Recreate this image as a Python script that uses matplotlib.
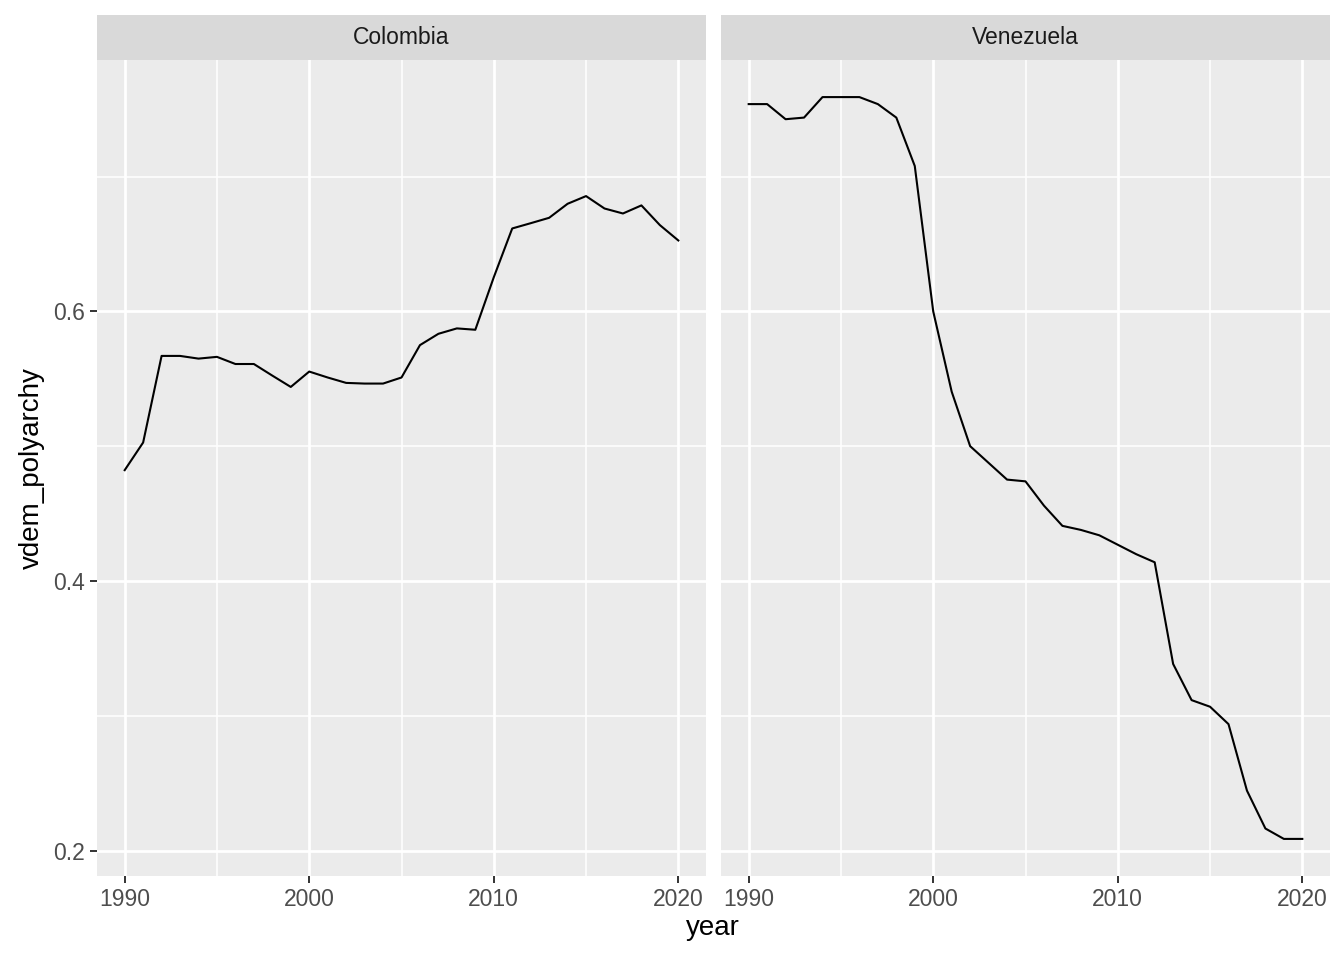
import matplotlib
matplotlib.use("Agg")
import matplotlib.pyplot as plt
from matplotlib.ticker import MultipleLocator

plt.rcParams['font.family'] = ['Liberation Sans', 'DejaVu Sans']

years = list(range(1990, 2021))
colombia = [0.4823, 0.5028, 0.567, 0.567, 0.565, 0.5663, 0.561, 0.561, 0.5524, 0.544,
            0.5554, 0.551, 0.547, 0.5465, 0.5465, 0.551, 0.575, 0.5834, 0.5874, 0.5864,
            0.6253, 0.6615, 0.6654, 0.6694, 0.6798, 0.6855, 0.6763, 0.6726, 0.6786, 0.664,
            0.6526]
venezuela = [0.7537, 0.7537, 0.7425, 0.7437, 0.7589, 0.7589, 0.7589, 0.7537, 0.7437, 0.7078,
             0.600, 0.5405, 0.5001, 0.4877, 0.4753, 0.474, 0.456, 0.441, 0.438, 0.434,
             0.427, 0.420, 0.414, 0.3386, 0.3118, 0.3069, 0.294, 0.2447, 0.2166, 0.2089,
             0.2089]
countries = ["Colombia", "Venezuela"]
series = [colombia, venezuela]

fig = plt.figure(figsize=(13.44, 9.6), dpi=100)

lefts = [97 / 1344, 721 / 1344]
w = 609 / 1344
bottom = 1 - 876 / 960
h = 816 / 960

allv = colombia + venezuela
ymin, ymax = min(allv), max(allv)
pad = (ymax - ymin) * 0.05
xpad = (max(years) - min(years)) * 0.05

for i, (name, vals) in enumerate(zip(countries, series)):
    ax = fig.add_axes([lefts[i], bottom, w, h])
    ax.set_facecolor('#EBEBEB')
    for s in ax.spines.values():
        s.set_visible(False)
    ax.plot(years, vals, color='black', linewidth=1.5, zorder=3)
    ax.set_xlim(min(years) - xpad, max(years) + xpad)
    ax.set_ylim(ymin - pad, ymax + pad)
    ax.xaxis.set_major_locator(MultipleLocator(10))
    ax.xaxis.set_minor_locator(MultipleLocator(5))
    ax.yaxis.set_major_locator(MultipleLocator(0.2))
    ax.yaxis.set_minor_locator(MultipleLocator(0.1))
    ax.grid(which='major', color='white', linewidth=2.0, zorder=1)
    ax.grid(which='minor', color='white', linewidth=1.1, zorder=1)
    ax.set_axisbelow(True)
    ax.tick_params(which='minor', length=0)
    ax.tick_params(which='major', length=5, width=1.4, color='#333333',
                   labelsize=16.5, labelcolor='#4D4D4D', pad=3.5)
    ax.yaxis.set_major_formatter(matplotlib.ticker.FormatStrFormatter('%.1f'))
    if i == 1:
        ax.tick_params(axis='y', which='both', length=0, labelleft=False)

    # facet strip
    sax = fig.add_axes([lefts[i], 1 - 60 / 960, w, 45 / 960])
    sax.set_facecolor('#D9D9D9')
    sax.set_xticks([])
    sax.set_yticks([])
    for s in sax.spines.values():
        s.set_visible(False)
    sax.text(0.5, 0.5, name, ha='center', va='center', fontsize=16.5,
             color='#1A1A1A', transform=sax.transAxes)

fig.text((97 + 1329) / 2 / 1344, 1 - 928 / 960, 'year', ha='center', va='center',
         fontsize=20)
fig.text(32 / 1344, 1 - 468 / 960, 'vdem_polyarchy', ha='center', va='center',
         rotation=90, fontsize=20)

fig.savefig('out.png', dpi=100)
